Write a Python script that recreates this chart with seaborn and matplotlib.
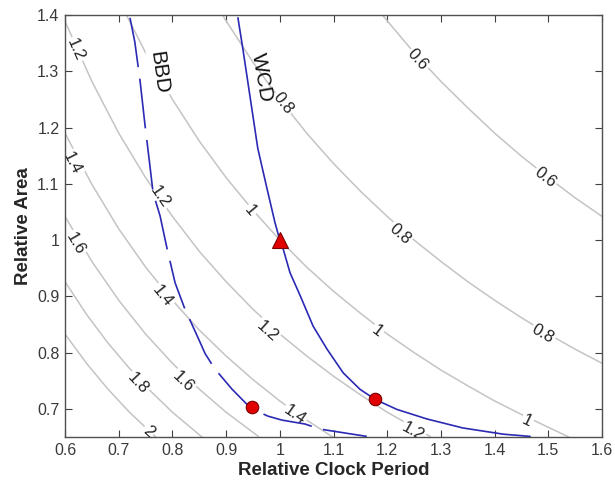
import matplotlib
matplotlib.use('Agg')
import matplotlib.pyplot as plt
import seaborn as sns
import pandas as pd

# iso-lines (relative clock period, relative area)
c20_x = [0.60, 0.64, 0.68, 0.72, 0.77]
c20_y = [0.833, 0.781, 0.735, 0.694, 0.649]
c18_x = [0.60, 0.64, 0.68, 0.72, 0.76, 0.80, 0.855]
c18_y = [0.926, 0.868, 0.817, 0.772, 0.731, 0.694, 0.650]
c16_x = [0.60, 0.65, 0.70, 0.75, 0.80, 0.85, 0.90, 0.96]
c16_y = [1.042, 0.962, 0.893, 0.833, 0.781, 0.735, 0.694, 0.651]
c14_x = [0.60, 0.65, 0.70, 0.75, 0.80, 0.85, 0.90, 0.95, 1.00, 1.05, 1.10]
c14_y = [1.190, 1.099, 1.020, 0.952, 0.893, 0.840, 0.794, 0.752, 0.714, 0.680, 0.649]
c12_x = [0.60, 0.65, 0.70, 0.75, 0.80, 0.85, 0.90, 0.95, 1.00, 1.05, 1.10, 1.15, 1.20, 1.28]
c12_y = [1.389, 1.282, 1.190, 1.111, 1.042, 0.980, 0.926, 0.877, 0.833, 0.794, 0.758,
         0.725, 0.694, 0.651]
c10_x = [0.715, 0.75, 0.80, 0.85, 0.90, 0.95, 1.00, 1.05, 1.10, 1.15, 1.20, 1.25, 1.30,
         1.35, 1.40, 1.45, 1.54]
c10_y = [1.399, 1.333, 1.250, 1.176, 1.111, 1.053, 1.000, 0.952, 0.909, 0.870, 0.833,
         0.800, 0.769, 0.741, 0.714, 0.690, 0.649]
c08_x = [0.895, 0.95, 1.00, 1.05, 1.10, 1.15, 1.20, 1.25, 1.30, 1.35, 1.40, 1.45, 1.50,
         1.55, 1.60]
c08_y = [1.397, 1.316, 1.250, 1.190, 1.136, 1.087, 1.042, 1.000, 0.962, 0.926, 0.893,
         0.862, 0.833, 0.806, 0.781]
c06_x = [1.19, 1.25, 1.30, 1.35, 1.40, 1.45, 1.50, 1.55, 1.60]
c06_y = [1.401, 1.333, 1.282, 1.235, 1.190, 1.149, 1.111, 1.075, 1.042]

# design curves
wcd_x = [0.922, 0.931, 0.945, 0.959, 0.976, 0.991, 1.0, 1.006, 1.019, 1.038, 1.062,
         1.088, 1.118, 1.149, 1.177, 1.218, 1.274, 1.341, 1.416, 1.466]
wcd_y = [1.395, 1.341, 1.252, 1.163, 1.092, 1.031, 1.0, 0.985, 0.942, 0.901, 0.847,
         0.806, 0.764, 0.735, 0.717, 0.699, 0.682, 0.666, 0.655, 0.651]
bbd_x = [0.721, 0.730, 0.740, 0.749, 0.758, 0.764, 0.777, 0.790, 0.805, 0.823, 0.846,
         0.861, 0.879, 0.911, 0.946, 0.978, 1.004, 1.047, 1.075, 1.162]
bbd_y = [1.395, 1.352, 1.281, 1.204, 1.133, 1.084, 1.043, 0.985, 0.924, 0.878, 0.830,
         0.798, 0.771, 0.735, 0.701, 0.687, 0.680, 0.673, 0.664, 0.651]

base_x, base_y = [1.0], [1.0]
opt_x = [0.948, 1.177]
opt_y = [0.703, 0.718]

x_ticks = [0.6, 0.7, 0.8, 0.9, 1.0, 1.1, 1.2, 1.3, 1.4, 1.5, 1.6]
x_labels = ['0.6', '0.7', '0.8', '0.9', '1', '1.1', '1.2', '1.3', '1.4', '1.5', '1.6']
y_ticks = [0.7, 0.8, 0.9, 1.0, 1.1, 1.2, 1.3, 1.4]
y_labels = ['0.7', '0.8', '0.9', '1', '1.1', '1.2', '1.3', '1.4']

contours = pd.concat([
    pd.DataFrame({'level': lv, 'period': xs, 'area': ys})
    for lv, xs, ys in [('2', c20_x, c20_y), ('1.8', c18_x, c18_y), ('1.6', c16_x, c16_y),
                       ('1.4', c14_x, c14_y), ('1.2', c12_x, c12_y), ('1', c10_x, c10_y),
                       ('0.8', c08_x, c08_y), ('0.6', c06_x, c06_y)]
])

sns.set_style('ticks')
plt.rcParams['font.family'] = ['Liberation Sans', 'DejaVu Sans']

fig = plt.figure(figsize=(6.15, 4.82), dpi=100)
ax = fig.add_axes([0.1057, 0.0934, 0.8732, 0.8755])

sns.lineplot(data=contours, x='period', y='area', units='level', estimator=None,
             sort=False, color='#c4c4c4', lw=1.1, ax=ax, legend=False, zorder=1)

# inline contour labels (text, x, y, angle)
clabels = [
    ('1.2', 0.619, 1.338, -66), ('1.2', 0.777, 1.076, -55), ('1.2', 0.976, 0.838, -42),
    ('1.2', 1.248, 0.660, -29),
    ('1.4', 0.613, 1.136, -63), ('1.4', 0.782, 0.901, -51), ('1.4', 1.028, 0.690, -35),
    ('1.6', 0.619, 0.994, -60), ('1.6', 0.820, 0.749, -44),
    ('1.8', 0.736, 0.746, -47), ('2', 0.755, 0.660, -42),
    ('1', 0.945, 1.052, -50), ('1', 1.181, 0.838, -37), ('1', 1.460, 0.678, -26),
    ('0.8', 1.006, 1.243, -52), ('0.8', 1.224, 1.011, -41), ('0.8', 1.490, 0.833, -30),
    ('0.6', 1.257, 1.320, -48), ('0.6', 1.494, 1.111, -38),
]
for txt, lx, ly, rot in clabels:
    ax.text(lx, ly, txt, rotation=rot, rotation_mode='anchor', ha='center', va='center',
            fontsize=12, color='#222222', zorder=2, clip_on=True,
            bbox=dict(boxstyle='square,pad=0.08', fc='white', ec='none'))

ax.plot(wcd_x, wcd_y, color='#2a2ab4', lw=1.2, zorder=3)
ax.plot(bbd_x, bbd_y, color='#2a2ab4', lw=1.2, zorder=3, dashes=(30, 7))

ax.plot(base_x, base_y, ls='none', marker='^', ms=11, mfc='#e00000', mec='#7a0000',
        mew=0.8, zorder=5)
ax.plot(opt_x, opt_y, ls='none', marker='o', ms=9, mfc='#e00000', mec='#7a0000',
        mew=0.8, zorder=5)

ax.text(0.775, 1.297, 'BBD', rotation=-82, ha='center', va='center', fontsize=15,
        color='#111111', zorder=4,
        bbox=dict(boxstyle='square,pad=0.05', fc='white', ec='none'))
ax.text(0.967, 1.288, 'WCD', rotation=-80, ha='center', va='center', fontsize=15,
        color='#111111', zorder=4)

ax.set_xlim(0.6, 1.6)
ax.set_ylim(0.65, 1.4)
ax.set_xticks(x_ticks)
ax.set_xticklabels(x_labels)
ax.set_yticks(y_ticks)
ax.set_yticklabels(y_labels)
ax.tick_params(direction='in', top=True, right=True, length=5, width=0.8,
               color='#404040', labelcolor='#3a3a3a', labelsize=11.5, pad=4)
for s in ax.spines.values():
    s.set_color('#505050')
    s.set_linewidth(1.0)

ax.set_xlabel('Relative Clock Period', fontsize=13.5, fontweight='bold', labelpad=3)
ax.set_ylabel('Relative Area', fontsize=13.5, fontweight='bold', labelpad=4)

fig.savefig('out.png', dpi=100)
